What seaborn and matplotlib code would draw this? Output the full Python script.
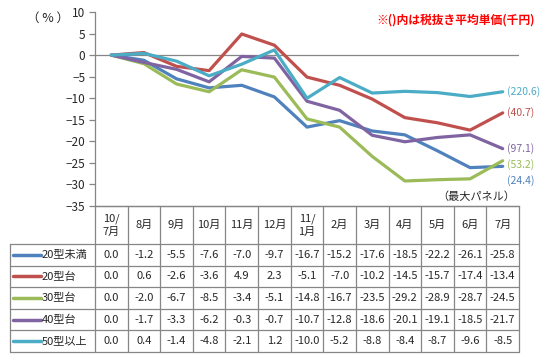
import numpy as np
import pandas as pd
import matplotlib
matplotlib.use("Agg")
import matplotlib.pyplot as plt
from matplotlib.lines import Line2D
import seaborn as sns

sns.set_theme(style="white")
plt.rcParams['font.family'] = ['Noto Sans CJK JP', 'DejaVu Sans']

# data
months = ['10/\n7月', '8月', '9月', '10月', '11月', '12月', '11/\n1月',
          '2月', '3月', '4月', '5月', '6月', '7月']
series_names = ['20型未満', '20型台', '30型台', '40型台', '50型以上']
under20 = [0.0, -1.2, -5.5, -7.6, -7.0, -9.7, -16.7, -15.2, -17.6, -18.5, -22.2, -26.1, -25.8]
size20 = [0.0, 0.6, -2.6, -3.6, 4.9, 2.3, -5.1, -7.0, -10.2, -14.5, -15.7, -17.4, -13.4]
size30 = [0.0, -2.0, -6.7, -8.5, -3.4, -5.1, -14.8, -16.7, -23.5, -29.2, -28.9, -28.7, -24.5]
size40 = [0.0, -1.7, -3.3, -6.2, -0.3, -0.7, -10.7, -12.8, -18.6, -20.1, -19.1, -18.5, -21.7]
over50 = [0.0, 0.4, -1.4, -4.8, -2.1, 1.2, -10.0, -5.2, -8.8, -8.4, -8.7, -9.6, -8.5]
avg_price = ['24.4', '40.7', '53.2', '97.1', '220.6']

values = [under20, size20, size30, size40, over50]
colors = ['#4F81BD', '#C0504D', '#9BBB59', '#8064A2', '#4BACC6']
label_shift = [-3.3, 0.0, -0.8, 0.0, 0.0]  # nudge end labels apart (data units)
grey = '#868686'

rows = []
for name, vals in zip(series_names, values):
    for i, v in enumerate(vals):
        rows.append({'idx': i, 'value': v, 'series': name})
df = pd.DataFrame(rows)

W, H = 549, 363
fig = plt.figure(figsize=(W / 100, H / 100), dpi=100)


def fx(x):
    return x / W


def fy(y):
    return 1 - y / H


left, right, top, bottom = 95, 519, 12, 206
ax = fig.add_axes([fx(left), fy(bottom), fx(right - left), (bottom - top) / H])

sns.lineplot(data=df, x='idx', y='value', hue='series', hue_order=series_names,
             palette=colors, linewidth=2.3, legend=False, ax=ax)
ax.axhline(0, color=grey, lw=0.9, zorder=0)
ax.set_xlim(-0.5, len(months) - 0.5)
ax.set_ylim(-35, 10)
ax.set_yticks(range(-35, 11, 5))
ax.set_xticks([])
ax.set_xlabel('')
ax.set_ylabel('')
for s in ['top', 'right']:
    ax.spines[s].set_visible(False)
for s in ['left', 'bottom']:
    ax.spines[s].set_color(grey)
    ax.spines[s].set_linewidth(0.9)
ax.tick_params(axis='y', direction='out', length=4, width=0.9, color=grey,
               labelsize=8.5, pad=3, left=True)

# end labels with average unit price
for name, vals, c, p, sh in zip(series_names, values, colors, avg_price, label_shift):
    ax.annotate(f'({p})', xy=(len(vals) - 1, vals[-1] + sh), xytext=(3, 0),
                textcoords='offset points', color=c, fontsize=7.5,
                va='center', ha='left', annotation_clip=False)

fig.text(fx(48), fy(18), '（ % ）', fontsize=9, ha='center', va='center')
fig.text(fx(535), fy(20), '※()内は税抜き平均単価(千円)', fontsize=8.5,
         color='#FF0000', fontweight='bold', ha='right', va='center')
fig.text(fx(476), fy(197), '（最大パネル）', fontsize=8, ha='center', va='center')

# data table below the chart
colw = (right - left) / len(months)
head_bot = 244
rowh = (352 - head_bot) / len(series_names)
tab_left = 9.5


def hline(x0, x1, y):
    fig.add_artist(Line2D([fx(x0), fx(x1)], [fy(y), fy(y)], color=grey, lw=0.9))


def vline(x, y0, y1):
    fig.add_artist(Line2D([fx(x), fx(x)], [fy(y0), fy(y1)], color=grey, lw=0.9))


hline(left, right, bottom)
for k in range(len(series_names) + 1):
    hline(tab_left, right, head_bot + k * rowh)
for j in range(len(months) + 1):
    vline(left + j * colw, bottom, head_bot + len(series_names) * rowh)
vline(tab_left, head_bot, head_bot + len(series_names) * rowh)

for j, m in enumerate(months):
    fig.text(fx(left + (j + 0.5) * colw), fy((bottom + head_bot) / 2), m,
             fontsize=8, ha='center', va='center', linespacing=1.4)

for k, (name, vals, c) in enumerate(zip(series_names, values, colors)):
    yc = head_bot + (k + 0.5) * rowh
    fig.add_artist(Line2D([fx(13), fx(41)], [fy(yc), fy(yc)], color=c, lw=2.5))
    fig.text(fx(42), fy(yc), name, fontsize=8, ha='left', va='center')
    for j, v in enumerate(vals):
        fig.text(fx(left + (j + 0.5) * colw), fy(yc), f'{v:.1f}',
                 fontsize=8, ha='center', va='center')

fig.savefig('out.png', dpi=100)
